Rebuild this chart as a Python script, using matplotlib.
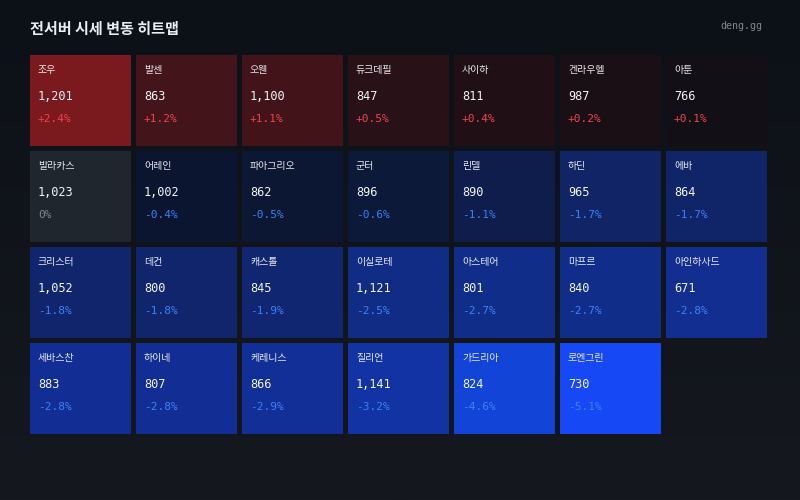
import numpy as np
import matplotlib
matplotlib.use("Agg")
import matplotlib.pyplot as plt
from matplotlib.colors import LinearSegmentedColormap
from matplotlib.patches import Rectangle

plt.rcParams['font.family'] = ['Noto Sans CJK KR', 'DejaVu Sans']

servers = ["조우", "발센", "오웬", "듀크데필", "사이하", "켄라우헬", "아툰",
           "발라카스", "어레인", "파아그리오", "군터", "린델", "하딘", "에바",
           "크리스터", "데컨", "캐스톨", "이실로테", "아스테어", "마프르", "아인하사드",
           "세바스찬", "하이네", "케레니스", "질리언", "가드리아", "로엔그린"]
prices = [1201, 863, 1100, 847, 811, 987, 766,
          1023, 1002, 862, 896, 890, 965, 864,
          1052, 800, 845, 1121, 801, 840, 671,
          883, 807, 866, 1141, 824, 730]
changes = [2.4, 1.2, 1.1, 0.5, 0.4, 0.2, 0.1,
           0, -0.4, -0.5, -0.6, -1.1, -1.7, -1.7,
           -1.8, -1.8, -1.9, -2.5, -2.7, -2.7, -2.8,
           -2.8, -2.8, -2.9, -3.2, -4.6, -5.1]
cell_colors = ["#7a191e", "#43141a", "#42141a", "#281117", "#201016", "#1a0f15", "#130f16",
               "#1f262d", "#0b1530", "#0c1733", "#0c1938", "#0e1d4c", "#102466", "#102468",
               "#10256c", "#10256c", "#102670", "#112c84", "#112d8a", "#112d8a", "#122e90",
               "#122e94", "#122e94", "#122f98", "#1233a4", "#1344d8", "#1648f5"]

W, H = 800, 500
COLS = 7

fig = plt.figure(figsize=(W / 100, H / 100), dpi=100)
ax = fig.add_axes([0, 0, 1, 1])
ax.set_xlim(0, W)
ax.set_ylim(H, 0)
ax.axis("off")

# background fades from near black at the top to slate at the bottom
bg = LinearSegmentedColormap.from_list("bg", ["#0c1117", "#15191f"])
ax.imshow(np.linspace(0, 1, 256).reshape(-1, 1), cmap=bg, extent=(0, W, H, 0), aspect="auto", zorder=0)

ax.text(30, 29, "전서버 시세 변동 히트맵", color="#e6edf3", fontsize=10.9, fontweight="bold", va="center")
ax.text(762, 26, "deng.gg", color="#7d8590", fontsize=7.2, family=["DejaVu Sans Mono"], ha="right", va="center")

for i, name in enumerate(servers):
    row, col = divmod(i, COLS)
    x = 30 + col * 106
    y = 55 + row * 96
    ax.add_patch(Rectangle((x, y), 101, 91, facecolor=cell_colors[i], edgecolor="none", zorder=1))

    ax.text(x + 8, y + 15, name, color="#e6e8ec", fontsize=7.2, fontweight="medium", va="center", zorder=2)
    ax.text(x + 8, y + 41, f"{prices[i]:,}", color="#f2f5fa", fontsize=8.6,
            family=["DejaVu Sans Mono"], va="center", zorder=2)

    change = changes[i]
    if change > 0:
        label, color = f"+{change:.1f}%", "#f0444f"
    elif change < 0:
        label, color = f"{change:.1f}%", "#3b82f6"
    else:
        label, color = "0%", "#7d8590"
    ax.text(x + 8, y + 64, label, color=color, fontsize=8.0,
            family=["DejaVu Sans Mono"], va="center", zorder=2)

fig.savefig("out.png", dpi=100)
